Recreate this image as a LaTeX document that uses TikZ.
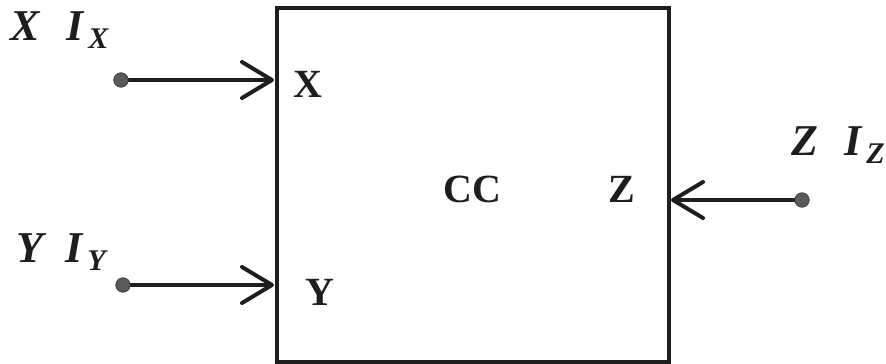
\documentclass[tikz,border=0pt]{standalone}
\usepackage{fontspec}
\setmainfont{Liberation Serif}
\usetikzlibrary{arrows.meta}
\definecolor{ink}{HTML}{1E1E1E}
\definecolor{dotfill}{HTML}{5A5A5A}
\newcommand{\bigfont}{\fontsize{40}{46}\selectfont\bfseries}
\newcommand{\outfont}{\fontsize{44}{50}\selectfont\bfseries\itshape}
\newcommand{\subfont}{\fontsize{30}{34}\selectfont\bfseries\itshape}
% bold italic symbol with a lowered subscript
\newcommand{\cur}[2]{#1\kern5pt\raisebox{-8pt}{\subfont #2}}
\begin{document}
\begin{tikzpicture}[x=1pt,y=-1pt,
  wire/.style={draw=ink,line width=4pt,
    -{Straight Barb[length=30pt,width=36pt,round]}},
  terminal/.style={circle,fill=dotfill,draw=ink!80,line width=1pt,
    minimum size=14pt,inner sep=0pt},
  port/.style={inner sep=0pt,anchor=base west,text=ink,font=\bigfont},
  outer/.style={inner sep=0pt,anchor=base west,text=ink,font=\outfont}]
\useasboundingbox (0,0) rectangle (886,364);

% the conveyor block
\node[draw=ink,line width=4.5pt,minimum width=392pt,minimum height=354pt,
  inner sep=0pt] (cc) at (473,185) {};
\node[port] (lcc) at (443,202) {CC};
\node[port] (lx) at (293,97) {X};
\node[port] (ly) at (305,305) {Y};
\node[port] (lz) at (608,202) {Z};

% external terminals
\node[terminal] (tx) at (121,80) {};
\node[terminal] (ty) at (123,285) {};
\node[terminal] (tz) at (802,200) {};

\coordinate (ex) at (274,80);
\coordinate (ey) at (274,285);
\coordinate (ez) at (671,200);
\draw[wire] (tx.center) -- (ex);
\draw[wire] (ty.center) -- (ey);
\draw[wire] (tz.center) -- (ez);
\node[terminal] at (tx) {};
\node[terminal] at (ty) {};
\node[terminal] at (tz) {};

% voltage and current labels
\node[outer] (vx) at (10,40) {X};
\node[outer] (ix) at (66,40) {\cur{I}{X}};
\node[outer] (vy) at (16,262) {Y};
\node[outer] (iy) at (65,262) {\cur{I}{Y}};
\node[outer] (vz) at (791,155) {Z};
\node[outer] (iz) at (844,155) {\cur{I}{Z}};
\end{tikzpicture}
\end{document}
